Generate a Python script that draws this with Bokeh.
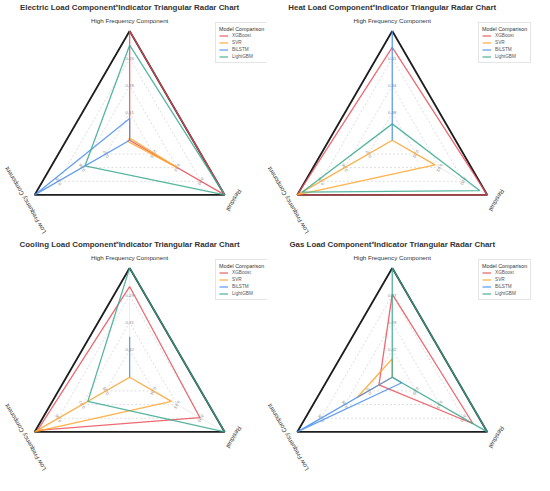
import math
from bokeh.plotting import figure
from bokeh.layouts import column, row
from bokeh.models import Range1d, Legend, LegendItem
from bokeh.core.properties import value
from bokeh.embed import file_html
from bokeh.resources import INLINE

# ---------------- data ----------------
axis_names = ["High Frequency Component", "Low Frequency Component", "Residual"]
models = ["XGBoost", "SVR", "BiLSTM", "LightGBM"]
colors = ["#E8505B", "#FFA52C", "#4A8FF0", "#3BA98F"]

titles = [
    "Electric Load Component\u02dfIndicator Triangular Radar Chart",
    "Heat Load Component\u02dfIndicator Triangular Radar Chart",
    "Cooling Load Component\u02dfIndicator Triangular Radar Chart",
    "Gas Load Component\u02dfIndicator Triangular Radar Chart",
]

# normalised scores [HF, LF, Residual]
electric_xgb = [1.00, 0.00, 1.00]
electric_svr = [0.02, 0.02, 0.50]
electric_bilstm = [0.20, 1.00, 0.00]
electric_lgbm = [0.87, 0.47, 1.00]

heat_xgb = [0.85, 1.00, 1.00]
heat_svr = [0.00, 1.00, 0.45]
heat_bilstm = [1.00, 0.00, 0.00]
heat_lgbm = [0.15, 0.95, 0.92]

cooling_xgb = [0.83, 0.97, 0.74]
cooling_svr = [0.00, 1.00, 0.44]
cooling_bilstm = [0.37, 0.00, 0.00]
cooling_lgbm = [1.00, 0.44, 1.00]

gas_xgb = [0.76, 0.14, 0.85]
gas_svr = [0.17, 0.37, 0.00]
gas_bilstm = [0.00, 1.00, 0.10]
gas_lgbm = [1.00, 0.00, 1.00]

grid_levels = [0.25, 0.5, 0.75]

# tick labels at grid levels 0.25, 0.5, 0.75 for each axis
electric_ticks = [["0.31", "0.28", "0.26"], ["0.07", "0.06", "0.05"], ["0.03", "0.02", "0.02"]]
heat_ticks = [["0.38", "0.34", "0.31"], ["0.07", "0.06", "0.05"], ["0.03", "0.03", "0.02"]]
cooling_ticks = [["0.32", "0.31", "0.29"], ["0.09", "0.07", "0.06"], ["0.04", "0.03", "0.03"]]
gas_ticks = [["0.32", "0.29", "0.27"], ["0.07", "0.06", "0.05"], ["0.03", "0.03", "0.02"]]

panels = [
    (titles[0], [electric_xgb, electric_svr, electric_bilstm, electric_lgbm], electric_ticks),
    (titles[1], [heat_xgb, heat_svr, heat_bilstm, heat_lgbm], heat_ticks),
    (titles[2], [cooling_xgb, cooling_svr, cooling_bilstm, cooling_lgbm], cooling_ticks),
    (titles[3], [gas_xgb, gas_svr, gas_bilstm, gas_lgbm], gas_ticks),
]

# ---------------- layout constants ----------------
PW, PH = 267, 237          # figure size in px
RW, RH = 275, 245          # data-space extent
angles = [90, 210, 330]
label_rot = [0, 120, 240]
R = 113.0
CY = 245 - 144.5
FONT = value("Liberation Sans")


def pt(cx, r, ang):
    a = math.radians(ang)
    return cx + r * R * math.cos(a), CY + r * R * math.sin(a)


def make_panel(idx, title, series, ticks):
    left = idx % 2 == 0
    cx = 133.0 if left else 128.5
    p = figure(width=PW, height=PH, x_range=Range1d(0, RW), y_range=Range1d(0, RH),
               toolbar_location=None, output_backend="svg", min_border=0,
               x_axis_type=None, y_axis_type=None)
    p.grid.visible = False
    p.outline_line_color = None
    p.background_fill_color = "white"

    # grid triangles
    for lv in grid_levels:
        xs = [pt(cx, lv, a)[0] for a in angles + [angles[0]]]
        ys = [pt(cx, lv, a)[1] for a in angles + [angles[0]]]
        p.line(xs, ys, line_color="#cfcfcf", line_width=0.7, line_dash="2 2")
    # radial spokes
    for a in angles:
        x1, y1 = pt(cx, 1.0, a)
        p.line([cx, x1], [CY, y1], line_color="#e2e2e2", line_width=0.7)

    # outer frame
    xs = [pt(cx, 1.0, a)[0] for a in angles + [angles[0]]]
    ys = [pt(cx, 1.0, a)[1] for a in angles + [angles[0]]]
    p.line(xs, ys, line_color="#1e1e1e", line_width=1.8)

    # tick labels
    for k, a in enumerate(angles):
        tx, ty = [], []
        for lv in grid_levels:
            x, y = pt(cx, lv, a)
            tx.append(x)
            ty.append(y)
        p.text(tx, ty, text=ticks[k], angle=label_rot[k], angle_units="deg",
               text_align="center", text_baseline="middle", text_font=FONT,
               text_font_size=value("4.3px"), text_color="#8a8a8a")

    # axis labels
    for k, a in enumerate(angles):
        x, y = pt(cx, 1.1, a)
        p.text([x], [y], text=[axis_names[k]], angle=label_rot[k], angle_units="deg",
               text_align="center", text_baseline="middle", text_font=FONT,
               text_font_size=value("6.2px"), text_color="#333333")

    # title
    p.text([cx], [245 - 7], text=[title], text_align="center", text_baseline="middle",
           text_font=FONT, text_font_size=value("7.9px"), text_font_style="bold",
           text_color="#333333")

    # series
    items = []
    for m, vals, col in zip(models, series, colors):
        xs = [pt(cx, v, a)[0] for v, a in zip(vals + [vals[0]], angles + [angles[0]])]
        ys = [pt(cx, v, a)[1] for v, a in zip(vals + [vals[0]], angles + [angles[0]])]
        r = p.line(xs, ys, line_color=col, line_width=1.3, line_alpha=0.85)
        items.append(LegendItem(label=m, renderers=[r]))

    lx = 215.0 if left else 211.0
    legend = Legend(items=items, location=(lx, 174), title="Model Comparison",
                    title_text_font="Liberation Sans", title_text_font_size="5.4px",
                    title_text_font_style="normal",
                    title_text_color="#333333", title_standoff=1,
                    label_text_font="Liberation Sans", label_text_font_size="4.7px",
                    label_text_color="#555555", glyph_width=9, glyph_height=5,
                    label_height=5, label_standoff=4, spacing=2, padding=3, margin=0,
                    border_line_color="#cccccc", border_line_width=0.6,
                    background_fill_alpha=0.9)
    p.add_layout(legend)
    return p


figs = [make_panel(i, t, s, tk) for i, (t, s, tk) in enumerate(panels)]
layout = column(row(figs[0], figs[1]), row(figs[2], figs[3]))

open("out.html", "w").write(file_html(layout, INLINE))
